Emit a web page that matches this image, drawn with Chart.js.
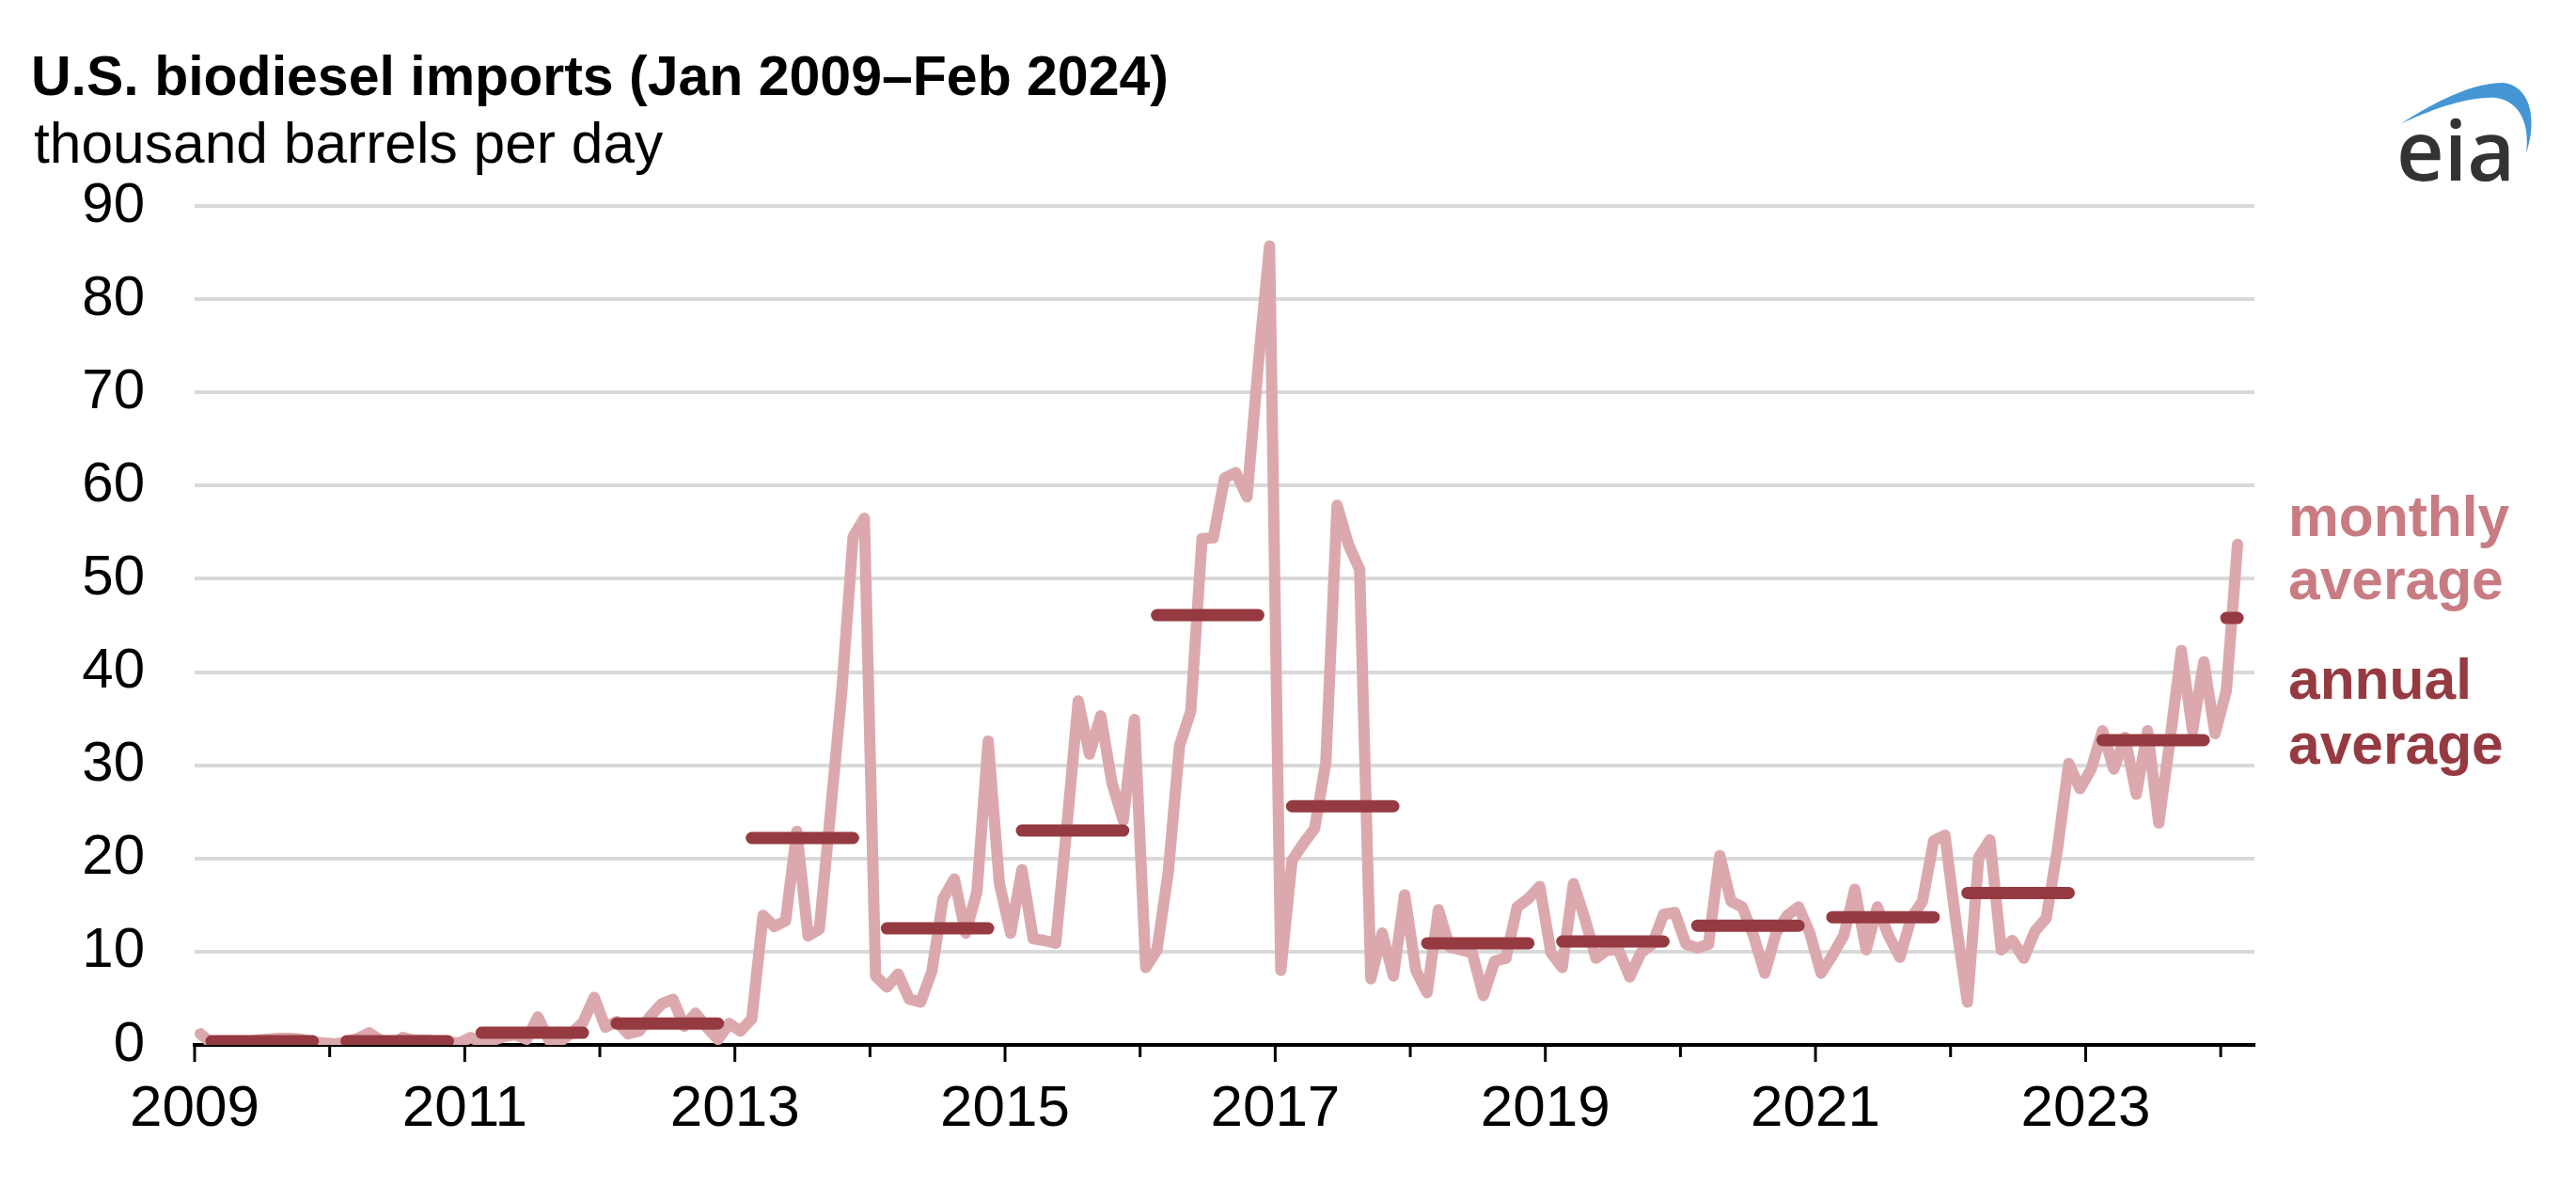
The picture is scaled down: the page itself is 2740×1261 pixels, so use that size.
<!DOCTYPE html>
<html>
<head>
<meta charset="utf-8">
<script src="https://cdn.jsdelivr.net/npm/chart.js@4.4.1/dist/chart.umd.min.js"></script>
<style>
  html, body { margin: 0; padding: 0; background: #fff; }
  body { width: 2740px; height: 1261px; position: relative; overflow: hidden;
         font-family: "Liberation Sans", Arial, sans-serif; }
  #chart { position: absolute; left: 0; top: 0; }
  .txt { position: absolute; line-height: 1; white-space: nowrap; margin: 0; }
  .title { left: 33px; top: 52px; font-size: 59px; font-weight: bold; color: #000; }
  .subtitle { left: 36px; top: 122px; font-size: 60.5px; color: #000; }
  .legend { left: 2434px; font-size: 60.5px; font-weight: bold; }
  .monthly { color: #c87c82; }
  .annual { color: #963a42; }
  .logo { left: 2549px; top: 114px; font-family: "Open Sans", sans-serif; font-weight: 600;
          font-size: 88px; color: #333; }
  #swoosh { position: absolute; left: 0; top: 0; pointer-events: none; }
</style>
</head>
<body>
<canvas id="chart" width="2740" height="1261"></canvas>

<div class="txt title">U.S. biodiesel imports (Jan 2009–Feb 2024)</div>
<div class="txt subtitle">thousand barrels per day</div>

<div class="txt legend monthly" style="top:519px">monthly</div>
<div class="txt legend monthly" style="top:586px">average</div>
<div class="txt legend annual" style="top:692px">annual</div>
<div class="txt legend annual" style="top:761px">average</div>

<svg id="swoosh" width="2740" height="1261">
  <path d="M2553,132 C2590,108 2630,88 2662,88 C2690,90 2700,125 2687,163 C2691,135 2682,108 2655,104 C2625,102 2585,117 2553,132 Z" fill="#4496d4"/>
</svg>
<div class="txt logo">eia</div>

<script>
// monthly imports, thousand b/d, Jan 2009 - Feb 2024 (one row per year)
const firstYear = 2009;
const monthlyImports = [
  1.2, 0.2, 0.1, 0.2, 0.3, 0.5, 0.6, 0.7, 0.7, 0.6, 0.3, 0.2,        // 2009
  0.1, 0.3, 0.7, 1.3, 0.5, 0.0, 0.8, 0.5, 0.5, 0.4, 0.3, 0.2,        // 2010
  0.8, 0.3, 0.5, 0.9, 1.1, 0.6, 3.0, 0.5, 0.4, 1.3, 2.4, 5.1,        // 2011
  1.9, 2.5, 1.2, 1.5, 3.1, 4.4, 4.9, 2.0, 3.4, 1.9, 0.6, 2.3,        // 2012
  1.5, 2.8, 13.9, 12.7, 13.3, 22.9, 11.7, 12.4, 25.0, 38.0, 54.5, 56.5, // 2013
  7.4, 6.2, 7.6, 4.9, 4.6, 7.9, 15.7, 17.8, 12.0, 16.4, 32.6, 17.3,  // 2014
  12.0, 18.8, 11.4, 11.2, 10.9, 23.5, 36.9, 31.2, 35.3, 28.1, 24.1, 34.9, // 2015
  8.3, 10.2, 18.5, 32.1, 35.8, 54.3, 54.4, 60.8, 61.4, 58.8, 73.0, 85.7,  // 2016
  8.0, 19.8, 21.6, 23.2, 30.3, 57.9, 53.7, 51.0, 7.1, 12.0, 7.4, 16.1,    // 2017
  8.0, 5.6, 14.5, 10.5, 10.2, 9.9, 5.3, 9.0, 9.3, 14.8, 15.7, 17.0,       // 2018
  9.9, 8.3, 17.3, 13.6, 9.3, 10.2, 10.2, 7.3, 9.9, 10.8, 14.0, 14.2,      // 2019
  10.8, 10.4, 10.8, 20.3, 15.4, 14.8, 11.7, 7.7, 12.0, 13.9, 14.8, 12.0,  // 2020
  7.7, 9.6, 11.7, 16.7, 10.2, 14.8, 11.7, 9.4, 13.6, 15.4, 21.9, 22.5,    // 2021
  13.0, 4.6, 20.1, 22.0, 10.2, 11.2, 9.3, 12.2, 13.6, 21.0, 30.2, 27.5,   // 2022
  29.6, 33.7, 29.6, 33.0, 26.9, 33.7, 23.8, 32.7, 42.3, 33.7, 41.1, 33.4, // 2023
  38.0, 53.7                                                          // 2024
];

const annualYears = [2009, 2010, 2011, 2012, 2013, 2014, 2015, 2016,
                     2017, 2018, 2019, 2020, 2021, 2022, 2023, 2024];
const annualAverage = [0.4, 0.4, 1.3, 2.3, 22.2, 12.5, 23.0, 46.1,
                       25.6, 10.9, 11.1, 12.8, 13.7, 16.3, 32.7, 45.8];

const tickYears = [2009, 2010, 2011, 2012, 2013, 2014, 2015, 2016,
                   2017, 2018, 2019, 2020, 2021, 2022, 2023, 2024];
const labeledYears = [2009, 2011, 2013, 2015, 2017, 2019, 2021, 2023];

const yTicks = [0, 10, 20, 30, 40, 50, 60, 70, 80, 90];

// points sit in the middle of each month
const monthlyPoints = monthlyImports.map((v, i) => ({ x: firstYear + (i + 0.5) / 12, y: v }));

// one flat dash per year, broken by a null
const annualPoints = [];
annualYears.forEach((yr, i) => {
  const n = Math.min(12, monthlyImports.length - (yr - firstYear) * 12);
  const a = n === 12 ? 1.5 : 0.5;
  const b = n === 12 ? 10.5 : n - 0.5;
  annualPoints.push({ x: yr + a / 12, y: annualAverage[i] });
  annualPoints.push({ x: yr + b / 12, y: annualAverage[i] });
  annualPoints.push({ x: yr + 0.99, y: null });
});

// year tick marks below the axis, longer on labelled years
const yearTicks = {
  id: 'yearTicks',
  afterDraw(chart) {
    const x = chart.scales.x, ctx = chart.ctx;
    ctx.save();
    ctx.strokeStyle = '#000';
    ctx.lineWidth = 3;
    x.ticks.forEach(t => {
      const px = x.getPixelForValue(t.value);
      const len = labeledYears.includes(t.value) ? 18 : 13;
      ctx.beginPath();
      ctx.moveTo(px, x.top);
      ctx.lineTo(px, x.top + len);
      ctx.stroke();
    });
    ctx.restore();
  }
};

Chart.defaults.font.family = '"Liberation Sans", Arial, sans-serif';
Chart.defaults.color = '#000';

new Chart(document.getElementById('chart'), {
  type: 'line',
  data: {
    datasets: [
      {
        label: 'annual average',
        data: annualPoints,
        borderColor: '#963a42',
        borderWidth: 13,
        borderCapStyle: 'round',
        pointRadius: 0,
        spanGaps: false,
        order: 0
      },
      {
        label: 'monthly average',
        data: monthlyPoints,
        borderColor: '#dba9ad',
        borderWidth: 12,
        borderJoinStyle: 'round',
        borderCapStyle: 'round',
        pointRadius: 0,
        tension: 0,
        order: 1
      }
    ]
  },
  options: {
    responsive: false,
    devicePixelRatio: 1,
    animation: false,
    events: [],
    layout: { padding: { top: 219, right: 342, left: 0, bottom: 0 } },
    plugins: { legend: { display: false }, tooltip: { enabled: false } },
    scales: {
      x: {
        type: 'linear',
        min: 2009,
        max: 2024.25,
        afterBuildTicks: s => { s.ticks = tickYears.map(v => ({ value: v })); },
        afterFit: s => { s.height = 150; },
        grid: { display: false, drawTicks: false },
        border: { display: true, color: '#000', width: 4 },
        ticks: {
          autoSkip: false,
          maxRotation: 0,
          padding: 32,
          font: { size: 62 },
          callback: v => labeledYears.includes(v) ? String(v) : ''
        }
      },
      y: {
        min: 0,
        max: 90,
        afterBuildTicks: s => { s.ticks = yTicks.map(v => ({ value: v })); },
        afterFit: s => { s.width = 207; },
        grid: { color: '#d9d9d9', lineWidth: 4, drawTicks: false },
        border: { display: false },
        ticks: { padding: 53, font: { size: 60 } }
      }
    }
  },
  plugins: [yearTicks]
});
</script>
</body>
</html>
